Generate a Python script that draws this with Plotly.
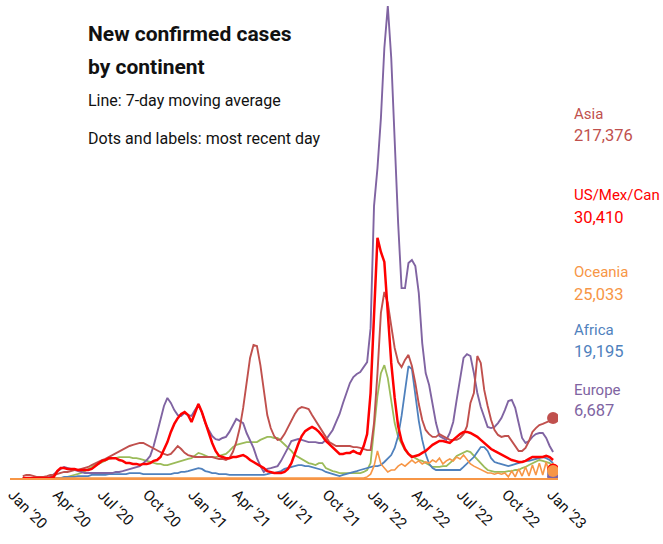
import pandas as pd
import plotly.graph_objects as go

# ---------------- data (7-day averages, thousands of cases, weekly) ----------------
dates = pd.date_range("2020-01-22", periods=155, freq="7D")

europe = [0, 0, 0, 0, 0, 0, 0, 0,
          4, 14, 25, 33, 40, 36, 33, 29, 25, 22,
          18, 18, 18, 18, 18, 18, 18, 18, 18, 22,
          22, 25, 29, 33, 36, 40, 43, 54, 65, 80,
          116, 163, 210, 261, 290, 272, 246, 228, 225, 236,
          228, 225, 246, 264, 239, 199, 174, 152, 141, 138,
          145, 149, 167, 192, 214, 206, 199, 163, 138, 109,
          72, 43, 22, 33, 36, 40, 43, 62, 83, 109,
          134, 138, 141, 138, 134, 130, 130, 130, 127, 127,
          138, 156, 174, 203, 232, 272, 308, 344, 366, 377,
          384, 402, 420, 543, 985, 1123, 1304, 1558, 1710, 1522,
          1196, 924, 688, 688, 779, 790, 768, 670, 489, 380,
          337, 272, 199, 152, 145, 138, 163, 203, 283, 355,
          435, 449, 442, 380, 308, 257, 217, 185, 181, 185,
          199, 217, 246, 279, 283, 254, 199, 145, 127, 134,
          149, 159, 163, 163, 145, 116, 94]

asia = [7, 11, 11, 7, 4, 4, 4, 7, 11, 11,
        14, 18, 22, 22, 25, 29, 29, 33, 36, 40,
        47, 54, 58, 65, 69, 76, 80, 87, 94, 101,
        109, 116, 120, 123, 127, 127, 120, 112, 105, 98,
        91, 87, 83, 87, 101, 116, 105, 91, 83, 80,
        76, 76, 76, 76, 76, 76, 72, 69, 69, 65,
        72, 94, 130, 181, 254, 344, 435, 482, 478, 409,
        315, 228, 181, 152, 138, 141, 159, 185, 207, 232,
        250, 257, 254, 250, 228, 207, 188, 167, 149, 130,
        123, 116, 116, 116, 116, 116, 112, 112, 109, 105,
        101, 101, 199, 380, 598, 674, 634, 551, 471, 420,
        402, 428, 446, 406, 344, 268, 210, 174, 159, 149,
        149, 159, 152, 145, 138, 138, 138, 145, 159, 188,
        272, 308, 442, 417, 319, 261, 210, 174, 156, 149,
        152, 152, 134, 116, 98, 98, 109, 134, 167, 181,
        192, 196, 203, 207, 210]

us_mex_can = [0, 0, 0, 0, 0, 0, 0, 0, 0, 4,
              25, 36, 36, 33, 33, 33, 29, 29, 29, 29,
              33, 43, 54, 62, 65, 72, 72, 72, 65, 62,
              54, 54, 51, 51, 47, 51, 51, 54, 62, 65,
              76, 101, 130, 167, 196, 217, 232, 239, 228, 203,
              239, 268, 239, 199, 163, 127, 98, 80, 76, 72,
              72, 76, 76, 80, 83, 76, 65, 58, 51, 43,
              36, 25, 22, 18, 18, 18, 22, 33, 54, 91,
              123, 152, 170, 178, 185, 178, 167, 152, 134, 123,
              112, 101, 87, 87, 91, 91, 98, 91, 87, 116,
              159, 308, 616, 870, 819, 783, 598, 417, 290, 188,
              134, 105, 87, 76, 80, 83, 91, 98, 109, 120,
              127, 134, 134, 130, 127, 138, 149, 159, 167, 167,
              163, 156, 149, 138, 127, 116, 105, 98, 91, 83,
              76, 72, 65, 62, 58, 58, 62, 69, 76, 76,
              76, 76, 80, 76, 65]

south_america = [0, 0, 0, 0, 0, 0, 0, 0, 0, 0,
                 0, 0, 0, 4, 7, 11, 14, 18, 25, 33,
                 40, 47, 51, 58, 62, 69, 72, 72, 76, 76,
                 76, 76, 72, 72, 69, 65, 62, 58, 54, 51,
                 51, 47, 47, 51, 54, 58, 62, 65, 69, 72,
                 80, 91, 87, 80, 76, 76, 76, 80, 83, 87,
                 98, 112, 120, 123, 127, 130, 130, 130, 130, 138,
                 145, 149, 149, 145, 145, 134, 123, 112, 98, 83,
                 76, 69, 62, 54, 51, 47, 54, 54, 36, 29,
                 25, 22, 18, 18, 18, 18, 18, 18, 18, 22,
                 29, 54, 181, 297, 380, 409, 362, 272, 199, 149,
                 123, 101, 87, 80, 72, 65, 62, 54, 47, 40,
                 40, 40, 43, 43, 54, 65, 80, 87, 91, 98,
                 94, 80, 65, 51, 40, 29, 25, 22, 22, 22,
                 22, 25, 25, 29, 29, 36, 40, 47, 54, 58,
                 65, 62, 58, 54, 43]

africa = [0, 0, 0, 0, 0, 0, 0, 0, 0, 0,
          0, 0, 4, 4, 4, 4, 7, 7, 7, 7,
          11, 11, 11, 11, 11, 14, 14, 14, 14, 14,
          14, 18, 18, 18, 18, 14, 14, 14, 14, 14,
          14, 14, 14, 14, 18, 18, 22, 22, 25, 29,
          33, 36, 33, 25, 22, 18, 18, 14, 14, 14,
          11, 11, 11, 11, 11, 11, 11, 11, 11, 11,
          11, 14, 18, 18, 22, 25, 33, 36, 40, 43,
          47, 47, 43, 43, 40, 36, 33, 29, 22, 18,
          14, 11, 7, 11, 14, 18, 22, 25, 29, 33,
          36, 40, 43, 43, 47, 58, 69, 83, 109, 152,
          225, 308, 405, 395, 290, 207, 138, 87, 51, 36,
          29, 29, 29, 29, 29, 29, 29, 29, 40, 51,
          62, 76, 94, 112, 112, 98, 72, 58, 54, 51,
          47, 43, 47, 51, 54, 58, 62, 62, 65, 69,
          72, 76, 72, 65, 54]

oceania = [0] * 100 + [
           4, 14, 43, 98, 51, 36, 22, 29, 29, 43,
           51, 43, 54, 65, 54, 62, 51, 58, 54, 65,
           58, 72, 51, 62, 69, 62, 76, 69, 83, 65,
           51, 43, 36, 29, 22, 18, 18, 14, 18, 14,
           18, 4, 25, 4, 33, 7, 40, 7, 47, 11,
           54, 11, 58, 14, 54]

# most recent day (dots and labels)
label_names = ["Asia", "US/Mex/Can", "Oceania", "Africa", "Europe"]
latest_values = [217376, 30410, 25033, 19195, 6687]

tick_dates = pd.date_range("2020-01-01", "2023-01-01", freq="QS")

# ---------------- styling ----------------
C_ASIA, C_US, C_OCE, C_AFR, C_EUR, C_SAM = "#c0504d", "#ff0000", "#f79646", "#4f81bd", "#8064a2", "#9bbb59"
FONT = "Roboto, Liberation Sans, sans-serif"

W, H = 663, 544
ML, MR, MT, MB = 10, 105, 0, 66
PW, PH = W - ML - MR, H - MT - MB


def px(x):
    return (x - ML) / PW


def py(y):
    return (H - MB - y) / PH


for s in (europe, asia, us_mex_can, south_america, africa, oceania):
    assert len(s) == len(dates)

fig = go.Figure()
series = [
    ("South America", south_america, C_SAM, 1.8),
    ("Africa", africa, C_AFR, 1.8),
    ("Oceania", oceania, C_OCE, 1.6),
    ("Europe", europe, C_EUR, 1.9),
    ("Asia", asia, C_ASIA, 1.9),
    ("US/Mex/Can", us_mex_can, C_US, 2.5),
]
for name, vals, col, w in series:
    fig.add_trace(go.Scatter(x=dates, y=vals, mode="lines", name=name,
                             line=dict(color=col, width=w), hoverinfo="x+y+name"))

label_colors = [C_ASIA, C_US, C_OCE, C_AFR, C_EUR]
last = dates[-1]
dot_order = [0, 1, 3, 4, 2]
fig.add_trace(go.Scatter(
    x=[last] * len(dot_order),
    y=[latest_values[i] / 1000 for i in dot_order],
    mode="markers",
    marker=dict(size=12, color=[label_colors[i] for i in dot_order]),
    hoverinfo="skip", showlegend=False))

ann = []
title_lines = [("<b>New confirmed cases</b>", 34, 21),
               ("<b>by continent</b>", 67, 21),
               ("Line: 7-day moving average", 100, 16),
               ("Dots and labels: most recent day", 138, 16)]
for txt, yc, fs in title_lines:
    ann.append(dict(text=txt, x=px(86), y=py(yc), xref="paper", yref="paper",
                    xanchor="left", yanchor="middle", showarrow=False,
                    font=dict(family=FONT, size=fs, color="#111111")))

label_y = [(114, 136), (195, 217), (272, 294), (330, 352), (390, 411)]
for name, val, col, (y1, y2) in zip(label_names, latest_values, label_colors, label_y):
    for txt, yc, fs in ((name, y1, 15), (f"{val:,}", y2, 16.5)):
        ann.append(dict(text=txt, x=px(572), y=py(yc), xref="paper", yref="paper",
                        xanchor="left", yanchor="middle", showarrow=False,
                        font=dict(family=FONT, size=fs, color=col)))

fig.update_layout(
    width=W, height=H,
    margin=dict(l=ML, r=MR, t=MT, b=MB, pad=0),
    paper_bgcolor="white", plot_bgcolor="white",
    showlegend=False,
    annotations=ann,
    xaxis=dict(range=["2019-12-27", "2023-01-14"], tickvals=tick_dates,
               tickformat="%b '%y", tickangle=45, showgrid=False, zeroline=False,
               showline=True, linecolor=C_OCE, linewidth=2, ticks="",
               automargin=False,
               tickfont=dict(family=FONT, size=15, color="#111111")),
    yaxis=dict(range=[0, 1732], visible=False, showgrid=False, zeroline=False,
               automargin=False),
)

fig.write_html("out.html", config={"displayModeBar": False},
               post_script="document.body.style.margin='0px';")
